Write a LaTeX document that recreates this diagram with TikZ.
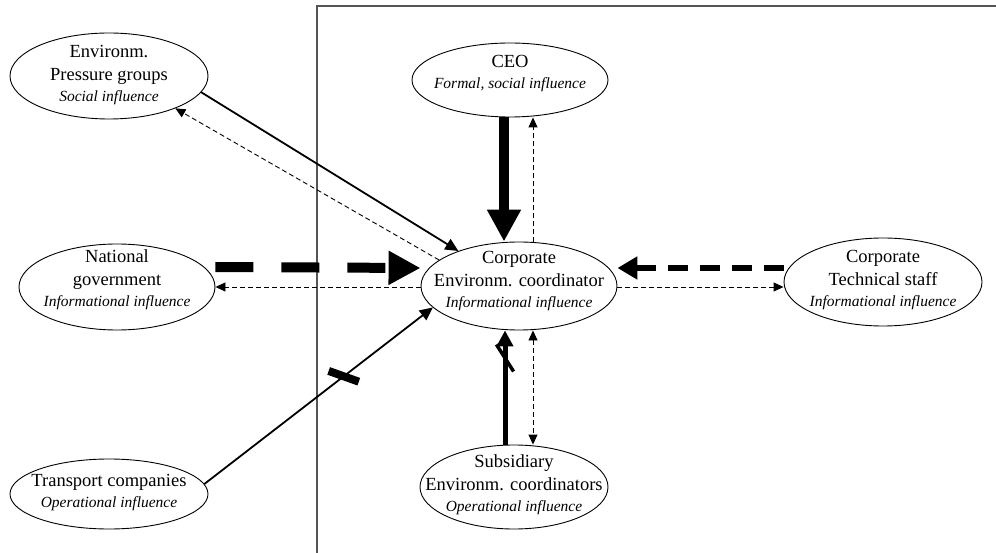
\documentclass[tikz,border=0pt]{standalone}
\usepackage{fontspec}
\setmainfont{Liberation Serif}
\usetikzlibrary{shapes.geometric,arrows.meta,calc}

% italic second line naming the kind of influence
\newcommand{\inflkind}[1]{{\fontsize{15.5}{20}\selectfont\itshape #1}}

\begin{document}
\begin{tikzpicture}[x=1pt,y=-1pt,
  actor/.style={draw, ellipse, line width=0.9pt, inner sep=0pt},
  actortext/.style={align=center, inner sep=0pt, font=\fontsize{18.5}{23}\selectfont},
  frameline/.style={draw={rgb,255:red,85;green,85;blue,85}, line width=1.5pt},
  inflback/.style={line width=0.9pt, dash pattern=on 5pt off 3pt,
    -{Triangle[length=10pt,width=9pt]}},
  plainflow/.style={line width=1.8pt, -{Triangle[length=13pt,width=12pt]}},
  heavydash/.style={line width=10pt, dash pattern=on 38pt off 28pt,
    -{Triangle[length=32pt,width=32pt]}},
  heavyflow/.style={line width=10pt, -{Triangle[length=32pt,width=32pt]}},
  meddash/.style={line width=6pt, dash pattern=on 20pt off 12pt,
    -{Triangle[length=20pt,width=22pt]}},
  medflow/.style={line width=5pt, -{Triangle[length=16pt,width=16pt]}},
  crossmark/.style={fill, rectangle, inner sep=0pt}
]
\useasboundingbox (0,0) rectangle (996,553);

% company boundary
\coordinate (fb) at (317,553);
\coordinate (fc) at (317,6);
\coordinate (fr) at (996,6);
\draw[frameline] (fb) -- (fc) -- (fr);

% actors
\node[actor, minimum width=198pt, minimum height=86pt] (press) at (109,76) {};
\node[actortext] (press-t) at (109,75)
  {Environm.\\Pressure groups\\[-2pt]\inflkind{Social influence}};

\node[actor, minimum width=196pt, minimum height=74pt] (ceo) at (510,80) {};
\node[actortext] (ceo-t) at (510,74)
  {CEO\\[-2pt]\inflkind{Formal, social influence}};

\node[actor, minimum width=196pt, minimum height=86pt] (nat) at (117,287) {};
\node[actortext] (nat-t) at (117,280)
  {National\\government\\[-2pt]\inflkind{Informational influence}};

\node[actor, minimum width=196pt, minimum height=88pt] (corp) at (519,286) {};
\node[actortext] (corp-t) at (519,281)
  {Corporate\\Environm. coordinator\\[-2pt]\inflkind{Informational influence}};

\node[actor, minimum width=198pt, minimum height=88pt] (tech) at (883,282) {};
\node[actortext] (tech-t) at (883,280)
  {Corporate\\Technical staff\\[-2pt]\inflkind{Informational influence}};

\node[actor, minimum width=198pt, minimum height=70pt] (trans) at (109,494) {};
\node[actortext] (trans-t) at (109,493)
  {Transport companies\\[-2pt]\inflkind{Operational influence}};

\node[actor, minimum width=188pt, minimum height=84pt] (sub) at (514,487) {};
\node[actortext] (sub-t) at (514,485)
  {Subsidiary\\Environm. coordinators\\[-2pt]\inflkind{Operational influence}};

% vertical lanes
\coordinate (xA) at (504,0);
\coordinate (xB) at (533,0);
\coordinate (xC) at (505,0);

% pressure groups
\draw[plainflow] (press.-10.3) -- (corp.150);
\draw[inflback] (corp.162.5) -- (press.-26.2);

% national government
\draw[heavydash] ($(nat.east)+(0,-20)$) -- ($(corp.west)+(0,-18)$);
\draw[inflback] ($(corp.west)+(0,1)$) -- ($(nat.east)+(0,0)$);

% technical staff
\draw[meddash] ($(tech.west)+(0,-14)$) -- ($(corp.east)+(0,-18)$);
\draw[inflback] ($(corp.east)+(0,1)$) -- ($(tech.west)+(0,5)$);

% CEO
\draw[heavyflow] (ceo.south -| xA) -- (corp.north -| xA);
\draw[inflback] (corp.north -| xB) -- (ceo.south -| xB);

% transport companies
\draw[plainflow] (trans.6.3) -- (corp.194.5);
\node[crossmark, minimum width=32pt, minimum height=8pt, rotate=-19.6]
  (trans-bar) at ($(trans.6.3)!0.61!(corp.194.5)$) {};

% subsidiaries
\draw[medflow] (sub.north -| xC) -- (corp.south -| xC);
\node[crossmark, minimum width=32pt, minimum height=3.5pt, rotate=-57.5]
  (sub-slash) at (505,358) {};
\draw[inflback, {Triangle[length=10pt,width=9pt]}-{Triangle[length=10pt,width=9pt]}]
  (corp.south -| xB) -- (sub.north -| xB);
\end{tikzpicture}
\end{document}
